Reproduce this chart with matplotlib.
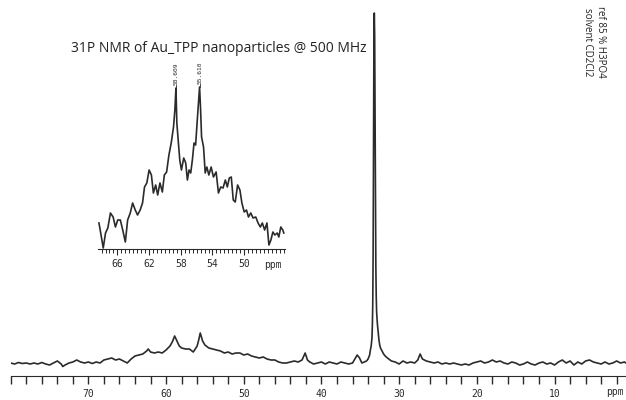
import matplotlib
matplotlib.use("Agg")
import matplotlib.pyplot as plt
import numpy as np
from matplotlib.ticker import FixedLocator, MultipleLocator

# --- DATOS ---

# espectro completo (ppm, intensidad relativa)
main_ppm = [80, 79.5, 79, 78.5, 78, 77.5, 77, 76.5, 76, 75.5, 75, 74.5, 74, 73.5, 73.3,
            73, 72.5, 72, 71.5, 71, 70.5, 70, 69.5, 69, 68.5, 68, 67.5, 67, 66.5, 66,
            65.5, 65, 64.5, 64, 63.5, 63, 62.5, 62.3, 62, 61.5, 61, 60.5, 60, 59.5, 59.2,
            58.9, 58.6, 58.3, 58, 57.5, 57, 56.5, 56, 55.8, 55.6, 55.3, 55, 54.5, 54, 53.5,
            53, 52.5, 52, 51.5, 51, 50.5, 50, 49.5, 49, 48.5, 48, 47.5, 47, 46.5, 46,
            45.5, 45, 44.5, 44, 43.5, 43, 42.5, 42.1, 41.8, 41.5, 41, 40.5, 40, 39.5, 39,
            38.5, 38, 37.5, 37, 36.5, 36, 35.7, 35.4, 35.1, 34.8, 34.5, 34.2, 34.0, 33.8, 33.7,
            33.6, 33.5, 33.45, 33.4, 33.35, 33.3, 33.25, 33.2, 33.15, 33.1, 33.05, 33.0, 32.95, 32.9, 32.8,
            32.7, 32.6, 32.5, 32.4, 32.2, 32.0, 31.8, 31.5, 31, 30.5, 30, 29.5, 29, 28.5, 28,
            27.6, 27.3, 27, 26.5, 26, 25.5, 25, 24.5, 24, 23.5, 23, 22.5, 22, 21.5, 21,
            20.5, 20, 19.5, 19, 18.5, 18, 17.5, 17, 16.5, 16, 15.5, 15, 14.5, 14, 13.5,
            13, 12.5, 12, 11.5, 11, 10.5, 10, 9.5, 9, 8.5, 8, 7.5, 7, 6.5, 6,
            5.5, 5, 4.5, 4, 3.5, 3, 2.5, 2, 1.5, 1, 0.8]
main_int = [13, 12, 13.5, 12.5, 13, 12, 13, 12, 13.5, 12, 11, 13, 15, 12, 9.5,
            11, 13, 14, 16, 14, 13, 14, 12.5, 14, 13, 16, 17, 18, 16, 17,
            15, 13, 17, 20, 21, 22, 25, 27, 24, 23, 24, 23, 26, 30, 34,
            40, 35, 30, 28, 27, 27, 24, 30, 36, 43, 35, 31, 28, 27, 26,
            25, 23, 24, 22, 23, 23, 21, 22, 20, 19, 18, 19, 17, 16, 16,
            14, 13, 13, 14, 15, 14, 16, 23, 16, 14, 12, 13, 14, 12, 14,
            13, 12, 14, 13, 12, 13, 17, 21, 18, 13, 14, 15, 17, 21, 26,
            30, 38, 50, 70, 120, 220, 330, 363, 340, 260, 170, 110, 80, 64, 52,
            44, 36, 31, 28, 25, 22, 20, 18, 15, 14, 12, 15, 13, 14, 13,
            16, 22, 17, 15, 14, 13, 14, 12, 13, 12, 13, 12, 11, 12, 11,
            13, 14, 15, 13, 14, 16, 14, 15, 13, 12, 14, 13, 11, 12, 14,
            12, 11, 13, 14, 12, 13, 11, 14, 16, 13, 15, 11, 14, 12, 15,
            16, 14, 13, 12, 14, 12, 13, 15, 13, 14, 13]

main_ticks = [70, 60, 50, 40, 30, 20, 10]

# ampliacion (inset) de la zona 68-45 ppm
inset_ppm = [68.33, 68.13, 67.79, 67.5, 67.21, 66.88, 66.54, 66.25, 65.96, 65.63,
             65.33, 65.0, 64.71, 64.38, 64.08, 63.75, 63.46, 63.13, 62.83, 62.58,
             62.29, 62.0, 61.71, 61.46, 61.17, 60.92, 60.63, 60.33, 60.08, 59.79,
             59.5, 59.21, 58.92, 58.75, 58.61, 58.5, 58.33, 58.13, 57.92, 57.63,
             57.38, 57.17, 56.96, 56.75, 56.54, 56.33, 56.13, 55.92, 55.63, 55.5,
             55.38, 55.13, 54.92, 54.71, 54.46, 54.17, 53.88, 53.54, 53.25, 52.96,
             52.67, 52.38, 52.13, 51.88, 51.63, 51.38, 51.13, 50.83, 50.54, 50.29,
             50.0, 49.71, 49.46, 49.17, 48.88, 48.54, 48.25, 47.96, 47.71, 47.42,
             47.13, 46.88, 46.63, 46.38, 46.13, 45.83, 45.63, 45.38, 45.13, 45.0]
inset_int = [26, 17, 1, 16, 21, 36, 32, 22, 29, 29,
             19, 7, 29, 36, 46, 39, 34, 39, 46, 62,
             66, 79, 74, 56, 64, 54, 66, 57, 74, 77,
             94, 106, 122, 139, 161, 126, 109, 89, 79, 91,
             86, 69, 79, 76, 89, 106, 104, 129, 162, 139,
             112, 102, 76, 82, 74, 82, 72, 77, 56, 62,
             61, 69, 62, 71, 72, 49, 47, 64, 59, 46,
             37, 39, 32, 36, 31, 32, 26, 22, 26, 19,
             26, 4, 9, 17, 14, 16, 12, 22, 19, 16]

inset_ticks = [66, 62, 58, 54, 50]
peak_ppm = [58.61, 55.63]
peak_labels = ["58.609", "55.610"]

LINE = "#2b2b2b"
MONO = "DejaVu Sans Mono"

# --- GRAFICO ---

fig = plt.figure(figsize=(6.26, 4.0), dpi=100)

ax = fig.add_axes([10.7 / 626, 24 / 400, 1 - 10.7 / 626, 376 / 400])
ax.patch.set_alpha(0)
ax.plot(main_ppm, main_int, color=LINE, lw=1.2)
ax.set_xlim(80, 0.8)
ax.set_ylim(0, 376)
for s in ["top", "left", "right"]:
    ax.spines[s].set_visible(False)
ax.spines["bottom"].set_color(LINE)
ax.set_yticks([])
ax.xaxis.set_major_locator(FixedLocator(main_ticks))
ax.xaxis.set_minor_locator(MultipleLocator(2))
ax.set_xticklabels([str(t) for t in main_ticks], family=MONO)
ax.tick_params(axis="x", which="both", direction="out", length=5.5, width=1,
               colors=LINE, labelsize=7, pad=4)
fig.text(624 / 626, 1 - 392 / 400, "ppm", ha="right", va="center",
         fontsize=7, family=MONO, color=LINE)

# inset
axin = fig.add_axes([98 / 626, 151 / 400, 187 / 626, 189 / 400])
axin.patch.set_alpha(0)
axin.plot(inset_ppm, inset_int, color=LINE, lw=1.2)
axin.set_xlim(68.45, 44.85)
axin.set_ylim(0, 189)
for s in ["top", "left", "right"]:
    axin.spines[s].set_visible(False)
axin.spines["bottom"].set_color(LINE)
axin.set_yticks([])
axin.xaxis.set_major_locator(FixedLocator(inset_ticks))
axin.xaxis.set_minor_locator(MultipleLocator(0.5))
axin.set_xticklabels([str(t) for t in inset_ticks], family=MONO)
axin.tick_params(axis="x", which="major", direction="out", length=4, width=0.8,
                 colors=LINE, labelsize=7, pad=3)
axin.tick_params(axis="x", which="minor", direction="out", length=3, width=0.7,
                 colors=LINE)
fig.text(273 / 626, 1 - 265 / 400, "ppm", ha="center", va="center",
         fontsize=7, family=MONO, color=LINE)

for x, lab in zip(peak_ppm, peak_labels):
    h = np.interp(-x, -np.array(inset_ppm), inset_int)
    axin.plot([x, x], [h, h + 3], color=LINE, lw=0.6)
    axin.text(x, h + 3, lab, rotation=90, ha="center", va="bottom",
              fontsize=4.5, family=MONO, color=LINE, clip_on=False)

fig.text(219 / 626, 1 - 48 / 400, "31P NMR of Au_TPP nanoparticles @ 500 MHz",
         ha="center", va="center", fontsize=10, family="Open Sans", color="#222222")
fig.text(594 / 626, 1 - 6 / 400, "ref 85 % H3PO4\nsolvent CD2Cl2", rotation=-90,
         ha="center", va="top", fontsize=7, family="Open Sans", color="#222222",
         linespacing=1.2)

plt.savefig("out.png", dpi=100)
plt.close()
